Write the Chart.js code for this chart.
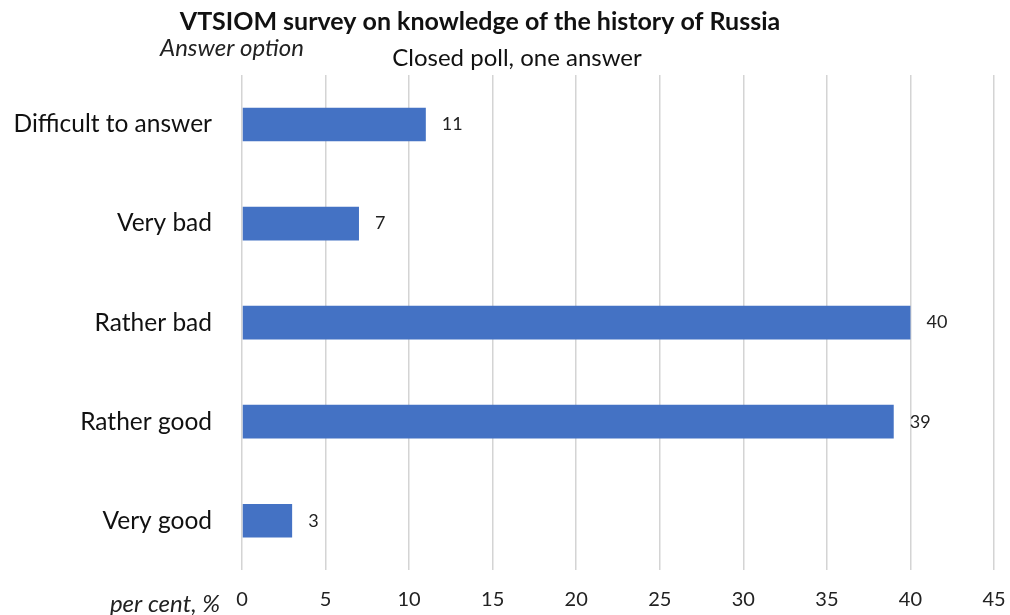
<!DOCTYPE html>
<html>
<head>
<meta charset="utf-8">
<script src="https://cdn.jsdelivr.net/npm/chart.js@4"></script>
<style>
  body { margin: 0; background: #fff; }
  #wrap { width: 1010px; height: 615px; }
</style>
</head>
<body>
<div id="wrap"><canvas id="surveyChart" width="1010" height="615"></canvas></div>
<script>
const answers = ["Difficult to answer", "Very bad", "Rather bad", "Rather good", "Very good"];
const percents = [11, 7, 40, 39, 3];
const xTicks = [0, 5, 10, 15, 20, 25, 30, 35, 40, 45];

const FONT = "Lato, 'Open Sans', sans-serif";

// titles and corner captions
const textPlugin = {
    id: "texts",
    afterDraw(chart) {
        const c = chart.ctx;
        c.save();
        c.fillStyle = "#111";
        c.textBaseline = "middle";
        c.textAlign = "center";
        c.font = "bold 25px " + FONT;
        c.fillText("VTSIOM survey on knowledge of the history of Russia", 480, 22);
        c.font = "24px " + FONT;
        c.fillText("Closed poll, one answer", 517, 58);
        c.font = "italic 24px " + FONT;
        c.fillStyle = "#222";
        c.textAlign = "left";
        c.fillText("Answer option", 160, 48);
        c.textAlign = "right";
        c.fillText("per cent, %", 220, 604);
        c.restore();
    }
};

// value labels after the bars
const valuePlugin = {
    id: "values",
    afterDatasetsDraw(chart) {
        const c = chart.ctx;
        const meta = chart.getDatasetMeta(0);
        c.save();
        c.font = "18px " + FONT;
        c.fillStyle = "#222";
        c.textAlign = "left";
        c.textBaseline = "middle";
        meta.data.forEach(function(bar, i) {
            c.fillText(String(percents[i]), bar.x + 16, bar.y);
        });
        c.restore();
    }
};

new Chart(document.getElementById("surveyChart"), {
    type: "bar",
    data: {
        labels: answers,
        datasets: [{
            data: percents,
            backgroundColor: "#4472c4",
            barPercentage: 0.34,
            categoryPercentage: 1.0
        }]
    },
    options: {
        indexAxis: "y",
        responsive: false,
        animation: false,
        layout: { padding: { top: 75, right: 16, left: 0, bottom: 0 } },
        plugins: {
            legend: { display: false },
            tooltip: { enabled: false }
        },
        scales: {
            x: {
                min: 0,
                max: 45,
                afterBuildTicks: function(axis) {
                    axis.ticks = xTicks.map(function(v) { return { value: v }; });
                },
                afterFit: function(axis) {
                    axis.height = 41;
                    axis.paddingLeft = 0;
                    axis.paddingRight = 0;
                },
                grid: { color: "#d4d4d4", lineWidth: 1.5, drawTicks: false },
                border: { display: false },
                ticks: {
                    padding: 17,
                    color: "#222",
                    font: { family: FONT, size: 20 },
                    maxRotation: 0
                }
            },
            y: {
                afterFit: function(axis) { axis.width = 242; },
                grid: { display: false, drawTicks: false },
                border: { display: false },
                ticks: {
                    padding: 30,
                    color: "#111",
                    font: { family: FONT, size: 24.5 }
                }
            }
        }
    },
    plugins: [textPlugin, valuePlugin]
});
</script>
</body>
</html>
